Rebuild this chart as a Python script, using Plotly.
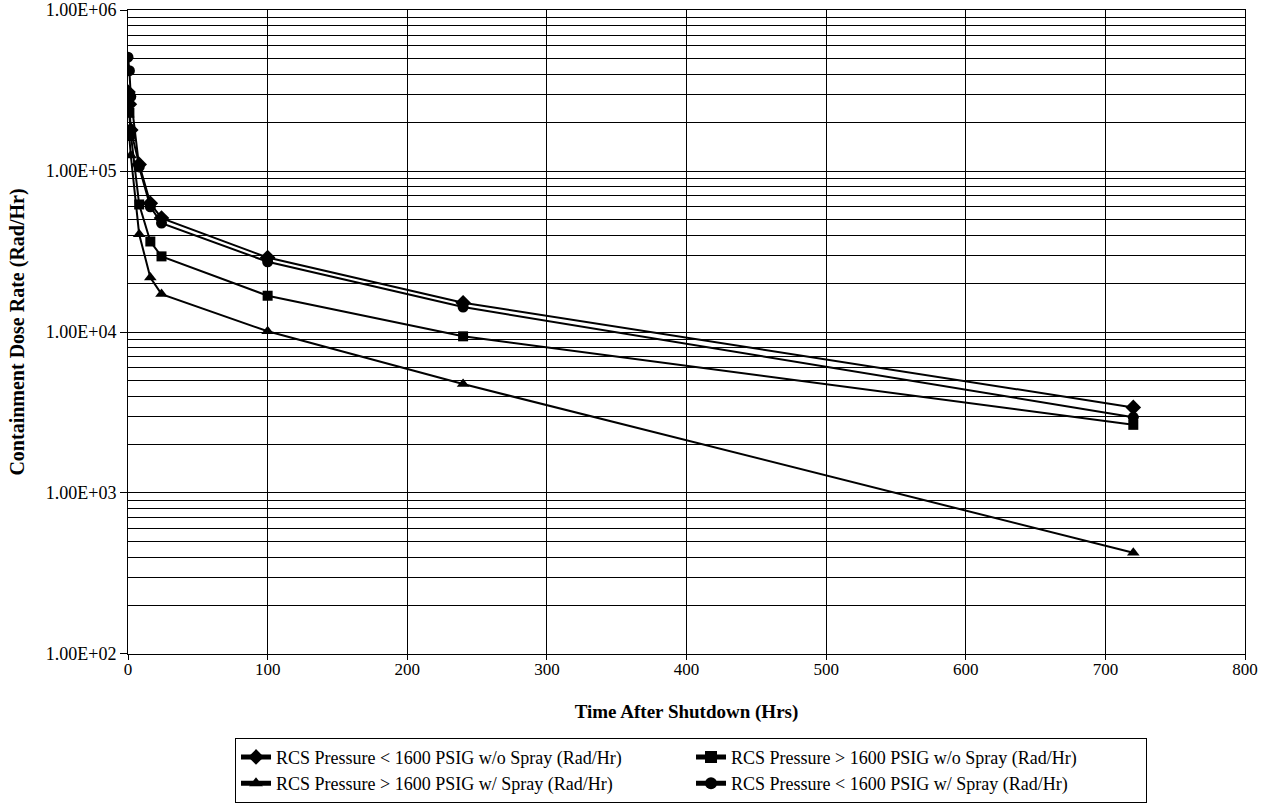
import plotly.graph_objects as go

time_hrs = [0, 1, 2, 8, 16, 24, 100, 240, 720]

lt1600_no_spray = [310000, 260000, 180000, 110000, 63000, 51000, 29000, 15200, 3400]
gt1600_no_spray = [290000, 230000, 170000, 62000, 36500, 29500, 16800, 9400, 2650]
gt1600_spray = [180000, 160000, 125000, 40500, 21800, 17200, 10100, 4750, 425]
lt1600_spray = [510000, 420000, 290000, 106000, 60000, 47500, 27300, 14300, 2950]

names = [
    "RCS Pressure < 1600 PSIG w/o Spray (Rad/Hr)",
    "RCS Pressure > 1600 PSIG w/o Spray (Rad/Hr)",
    "RCS Pressure > 1600 PSIG w/ Spray (Rad/Hr)",
    "RCS Pressure < 1600 PSIG w/ Spray (Rad/Hr)",
]
series = [lt1600_no_spray, gt1600_no_spray, gt1600_spray, lt1600_spray]
symbols = ["diamond", "square", "triangle-up", "circle"]
sizes = [12, 10, 11, 11]

y_tickvals = [1e2, 1e3, 1e4, 1e5, 1e6]
y_ticktext = ["1.00E+02", "1.00E+03", "1.00E+04", "1.00E+05", "1.00E+06"]
x_tickvals = [0, 100, 200, 300, 400, 500, 600, 700, 800]

FONT = "Liberation Serif, Times New Roman, serif"

fig = go.Figure()
for nm, ys, sym, sz in zip(names, series, symbols, sizes):
    fig.add_trace(go.Scatter(
        x=time_hrs, y=ys, name=nm, mode="lines+markers",
        line=dict(color="black", width=2),
        marker=dict(symbol=sym, size=sz, color="black"),
    ))

fig.update_layout(
    width=1270, height=803,
    margin=dict(l=128, r=25, t=10, b=149, autoexpand=False),
    paper_bgcolor="white", plot_bgcolor="white",
    font=dict(family=FONT, size=16, color="black"),
    showlegend=True,
    legend=dict(
        orientation="h", x=0.0958, xanchor="left", y=-0.13, yanchor="top",
        bordercolor="black", borderwidth=1, bgcolor="white",
        entrywidth=410, entrywidthmode="pixels",
        font=dict(family=FONT, size=18, color="black"),
        tracegroupgap=0, itemsizing="constant", itemwidth=30,
    ),
)

fig.update_xaxes(
    range=[0, 800], tickvals=x_tickvals, automargin=False,
    showgrid=True, gridcolor="black", gridwidth=1,
    showline=True, linecolor="black", linewidth=1, mirror=True,
    ticks="outside", ticklen=5, tickcolor="black", ticklabelstandoff=-5,
    zeroline=False,
    title=dict(text="<b>Time After Shutdown (Hrs)</b>", standoff=26,
               font=dict(family=FONT, size=19)),
    tickfont=dict(family=FONT, size=17),
)

fig.update_yaxes(
    type="log", range=[1.9995, 6.0005], tickvals=y_tickvals, ticktext=y_ticktext,
    automargin=False, ticklabeloverflow="allow",
    showgrid=True, gridcolor="black", gridwidth=1,
    minor=dict(dtick="D1", showgrid=True, gridcolor="black", gridwidth=1, ticks=""),
    showline=True, linecolor="black", linewidth=1, mirror=True,
    ticks="outside", ticklen=7, tickcolor="black",
    title=dict(text="<b>Containment Dose Rate (Rad/Hr)</b>", standoff=15,
               font=dict(family=FONT, size=20)),
    tickfont=dict(family=FONT, size=18),
)

fig.write_html("out.html", config={"displayModeBar": False},
               post_script="document.body.style.margin='0';")
